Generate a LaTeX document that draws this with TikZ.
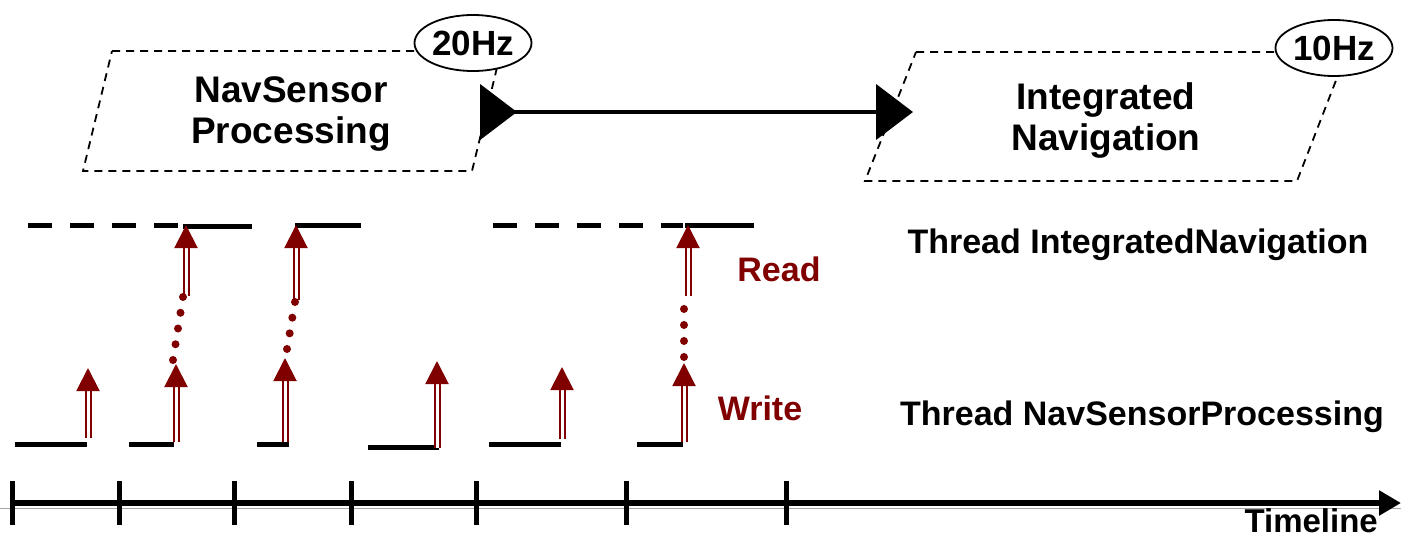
\documentclass[tikz,border=0pt]{standalone}
\usepackage{fontspec}
\setmainfont{Liberation Sans}
\usetikzlibrary{arrows.meta,shapes.geometric,calc}
\definecolor{wrred}{RGB}{128,0,0}
\begin{document}
\begin{tikzpicture}[x=1pt,y=-1pt,
  taskbox/.style={line width=1.8pt,dash pattern=on 8pt off 6pt},
  tasktext/.style={align=center,inner sep=0pt,font=\fontsize{37}{41}\selectfont\bfseries},
  rate/.style={ellipse,draw,line width=1.8pt,fill=white,inner sep=0pt,
    minimum width=117pt,minimum height=56pt,font=\fontsize{35}{40}\selectfont\bfseries},
  flow/.style={line width=4.5pt,
    {Triangle[reversed,length=37pt,width=55pt]}-{Triangle[length=37pt,width=55pt]}},
  thr/.style={line width=5pt},
  thrdash/.style={thr,dash pattern=on 24pt off 18pt},
  rw/.style={wrred,line width=2pt,double=white,double distance=3pt,
    -{Triangle[length=23pt,width=23pt]}},
  rwdot/.style={fill=wrred},
  label/.style={inner sep=0pt,anchor=base,font=\fontsize{34}{40}\selectfont\bfseries},
  axis/.style={line width=5.5pt,-{Triangle[length=22pt,width=24pt]}},
  tick/.style={line width=5pt}]
\useasboundingbox (0,0) rectangle (1401,539);

% task boxes
\draw[taskbox] (112,51) -- (501,51) -- (472,171) -- (83,171) -- cycle;
\draw[taskbox] (916,52) -- (1347,52) -- (1297,181) -- (865,181) -- cycle;
\node[tasktext] (nav) at (291,114) {NavSensor\\Processing};
\node[tasktext] (integ) at (1106,121) {Integrated\\Navigation};
\node[rate] (hz20) at (473,43) {20Hz};
\node[rate] (hz10) at (1334,48) {10Hz};

% data flow between the tasks
\coordinate (navout) at (480,112);
\coordinate (intin) at (913,112);
\draw[flow] (navout) -- (intin);

% thread IntegratedNavigation
\draw[thrdash] (28,225) -- (178,225);
\draw[thr] (183,226) -- (252,226);
\draw[thr] (295,225) -- (361,225);
\draw[thrdash] (493,225) -- (683,225);
\draw[thr] (685,225) -- (754,225);

% thread NavSensorProcessing
\draw[thr] (15,444) -- (87,444);
\draw[thr] (129,444) -- (174,444);
\draw[thr] (257,444) -- (289,444);
\draw[thr] (368,447) -- (439,447);
\draw[thr] (489,444) -- (561,444);
\draw[thr] (637,444) -- (683,444);

% write arrows
\foreach \n/\x/\b/\t in {1/88/438/368,2/176/442/364,3/285/442/358,4/437/448/361,5/562/439/367,6/684/442/363}{
  \coordinate (w\n a) at (\x,\b);
  \coordinate (w\n b) at (\x,\t);
  \draw[rw] (w\n a) -- (w\n b);
}
% read arrows
\foreach \n/\x/\b in {2/186/296,3/296/300,6/688/296}{
  \coordinate (r\n a) at (\x,\b);
  \coordinate (r\n b) at (\x,225);
  \draw[rw] (r\n a) -- (r\n b);
}
% waiting between write and read
\foreach \i in {0,...,4}{\fill[rwdot] ($(173,360)!\i/4!(183,297)$) circle (4pt);}
\foreach \i in {0,...,3}{\fill[rwdot] ($(287,349)!\i/3!(295,302)$) circle (4pt);}
\foreach \i in {0,...,3}{\fill[rwdot] ($(684,357)!\i/3!(684,309)$) circle (4pt);}

\node[label,wrred] (read) at (779,281) {Read};
\node[label,wrred] (write) at (760,420) {Write};
\node[label] (thint) at (1138,253) {Thread IntegratedNavigation};
\node[label] (thnav) at (1142,425) {Thread NavSensorProcessing};

% timeline
\draw[gray!70,line width=1pt] (0,508) -- (1401,508);
\coordinate (t0) at (12,503);
\coordinate (tend) at (1401,503);
\draw[axis] (t0) -- (tend);
\foreach \x in {12,119,234,351,476,626,786}{\draw[tick] (\x,481) -- (\x,525);}
\node[label,anchor=base east,font=\fontsize{33}{40}\selectfont\bfseries] (tl) at (1378,532) {Timeline};
\end{tikzpicture}
\end{document}
